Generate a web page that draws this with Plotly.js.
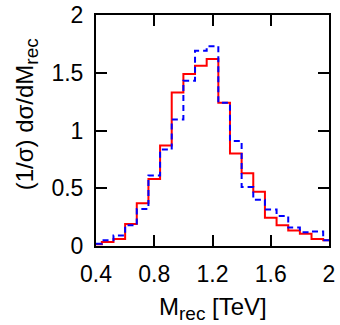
<!DOCTYPE html>
<html>
<head>
<meta charset="utf-8">
<script src="https://cdn.plot.ly/plotly-3.0.1.min.js"></script>
<style>html,body{margin:0;padding:0;background:#fff;}#chart{width:340px;height:325px;}</style>
</head>
<body>
<div id="chart"></div>
<script>
// bin centres (TeV), bin width 0.08
const binCenters = [0.40,0.48,0.56,0.64,0.72,0.80,0.88,0.96,1.04,1.12,1.20,1.28,1.36,1.44,1.52,1.60,1.68,1.76,1.84,1.92,2.00];
const redValues  = [0.015,0.035,0.06,0.19,0.37,0.58,0.87,1.33,1.49,1.56,1.62,1.24,0.80,0.63,0.47,0.245,0.18,0.135,0.105,0.06,0.05];
const blueValues = [0.02,0.05,0.09,0.18,0.32,0.61,0.835,1.095,1.43,1.69,1.73,1.24,0.91,0.51,0.40,0.315,0.26,0.16,0.12,0.125,0.05];
const xTickVals = [0.4,0.8,1.2,1.6,2];
const xTickText = ["0.4","0.8","1.2","1.6","2"];
const yTickVals = [0,0.5,1,1.5,2];
const yTickText = ["0","0.5","1","1.5","2"];

const font = "Liberation Sans, Arial, Helvetica, sans-serif";

const traces = [
  {x: binCenters, y: redValues, mode: "lines", line: {shape: "hvh", color: "#ff0000", width: 2}, hoverinfo: "skip"},
  {x: binCenters, y: blueValues, mode: "lines", line: {shape: "hvh", color: "#0000ff", width: 2, dash: "6px,4px"}, hoverinfo: "skip"}
];

const axisCommon = {
  showgrid: false, zeroline: false, showline: true, linecolor: "#000", linewidth: 2,
  mirror: "ticks", ticks: "inside", ticklen: 11, tickwidth: 2, tickcolor: "#000",
  tickfont: {family: font, size: 23, color: "#000"}, ticklabelstandoff: 6
};

const layout = {
  width: 340, height: 325,
  margin: {l: 96, r: 11, t: 15, b: 78.5},
  paper_bgcolor: "#fff", plot_bgcolor: "#fff",
  showlegend: false,
  xaxis: Object.assign({}, axisCommon, {range: [0.4, 2], tickmode: "array", tickvals: xTickVals, ticktext: xTickText}),
  yaxis: Object.assign({}, axisCommon, {range: [0, 2], tickmode: "array", tickvals: yTickVals, ticktext: yTickText}),
  annotations: [
    {text: "(1/σ) dσ/dM<sub><span style=\"font-size:19px\">rec</span></sub>", xref: "paper", yref: "paper", x: 0, y: 0.57, xshift: -70,
     xanchor: "center", yanchor: "middle", textangle: -90, showarrow: false,
     font: {family: font, size: 24, color: "#000"}},
    {text: "M<sub><span style=\"font-size:19px\">rec</span></sub> [TeV]", xref: "paper", yref: "paper", x: 0.5, y: 0, yshift: -62,
     xanchor: "center", yanchor: "middle", showarrow: false,
     font: {family: font, size: 24, color: "#000"}}
  ]
};

Plotly.newPlot("chart", traces, layout, {staticPlot: true, displayModeBar: false});
</script>
</body>
</html>
